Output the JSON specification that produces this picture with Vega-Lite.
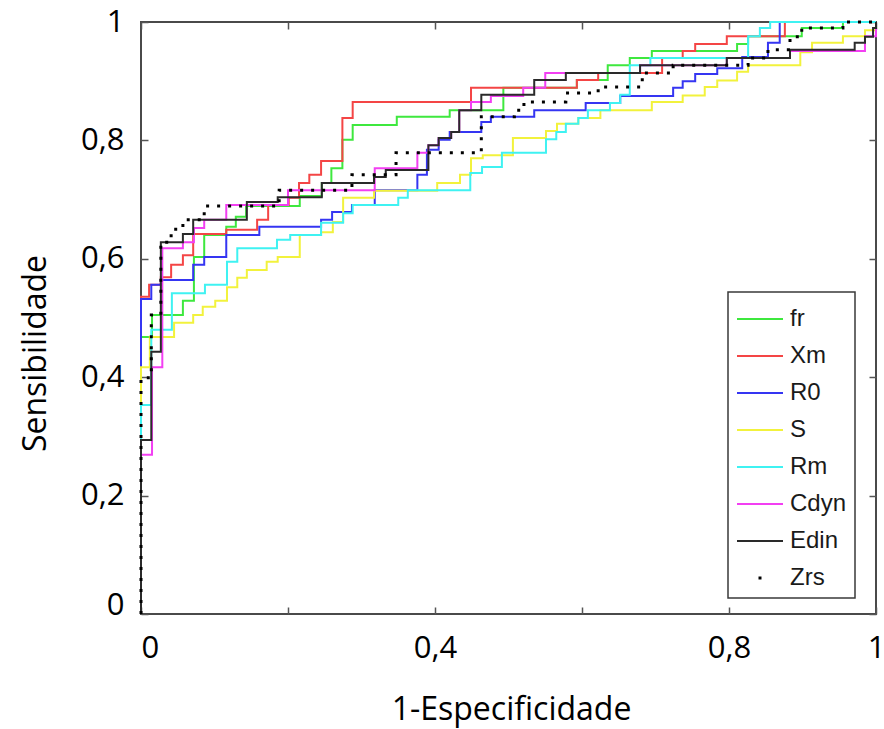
{
  "$schema": "https://vega.github.io/schema/vega-lite/v6.json",
  "width": 735,
  "height": 592,
  "autosize": {"type": "none"},
  "padding": {"left": 141, "top": 22, "right": 8, "bottom": 115},
  "background": "white",
  "config": {
    "view": {"stroke": "#4a4a4a", "strokeWidth": 2},
    "axis": {
      "domain": false, "grid": false, "ticks": true, "tickColor": "#555", "tickWidth": 1.5, "tickSize": -7,
      "labelFont": "Open Sans", "labelFontSize": 31, "labelColor": "#000",
      "titleFont": "Open Sans", "titleFontSize": 32, "titleFontWeight": "normal", "titleColor": "#000",
      "labelOverlap": false, "labelBound": false, "labelFlush": false
    }
  },
  "datasets": {
    "roc": [
      {"s":"fr","i":0,"x":0,"y":0},{"s":"fr","i":1,"x":0,"y":0.468},{"s":"fr","i":2,"x":0.015,"y":0.505},{"s":"fr","i":3,"x":0.057,"y":0.529},{"s":"fr","i":4,"x":0.072,"y":0.603},{"s":"fr","i":5,"x":0.086,"y":0.64},{"s":"fr","i":6,"x":0.116,"y":0.654},{"s":"fr","i":7,"x":0.129,"y":0.671},{"s":"fr","i":8,"x":0.143,"y":0.689},{"s":"fr","i":9,"x":0.216,"y":0.706},{"s":"fr","i":10,"x":0.246,"y":0.728},{"s":"fr","i":11,"x":0.259,"y":0.753},{"s":"fr","i":12,"x":0.274,"y":0.801},{"s":"fr","i":13,"x":0.288,"y":0.826},{"s":"fr","i":14,"x":0.348,"y":0.84},{"s":"fr","i":15,"x":0.42,"y":0.851},{"s":"fr","i":16,"x":0.493,"y":0.889},{"s":"fr","i":17,"x":0.593,"y":0.902},{"s":"fr","i":18,"x":0.635,"y":0.927},{"s":"fr","i":19,"x":0.665,"y":0.939},{"s":"fr","i":20,"x":0.695,"y":0.951},{"s":"fr","i":21,"x":0.811,"y":0.963},{"s":"fr","i":22,"x":0.826,"y":0.976},{"s":"fr","i":23,"x":0.899,"y":0.99},{"s":"fr","i":24,"x":0.955,"y":1},{"s":"fr","i":25,"x":1,"y":1},
      {"s":"Xm","i":0,"x":0,"y":0},{"s":"Xm","i":1,"x":0,"y":0.536},{"s":"Xm","i":2,"x":0.011,"y":0.556},{"s":"Xm","i":3,"x":0.027,"y":0.569},{"s":"Xm","i":4,"x":0.041,"y":0.59},{"s":"Xm","i":5,"x":0.057,"y":0.606},{"s":"Xm","i":6,"x":0.071,"y":0.642},{"s":"Xm","i":7,"x":0.116,"y":0.649},{"s":"Xm","i":8,"x":0.158,"y":0.666},{"s":"Xm","i":9,"x":0.173,"y":0.691},{"s":"Xm","i":10,"x":0.201,"y":0.703},{"s":"Xm","i":11,"x":0.215,"y":0.728},{"s":"Xm","i":12,"x":0.229,"y":0.742},{"s":"Xm","i":13,"x":0.245,"y":0.765},{"s":"Xm","i":14,"x":0.274,"y":0.838},{"s":"Xm","i":15,"x":0.288,"y":0.865},{"s":"Xm","i":16,"x":0.449,"y":0.889},{"s":"Xm","i":17,"x":0.593,"y":0.902},{"s":"Xm","i":18,"x":0.622,"y":0.914},{"s":"Xm","i":19,"x":0.709,"y":0.939},{"s":"Xm","i":20,"x":0.737,"y":0.951},{"s":"Xm","i":21,"x":0.754,"y":0.963},{"s":"Xm","i":22,"x":0.797,"y":0.976},{"s":"Xm","i":23,"x":0.876,"y":1},{"s":"Xm","i":24,"x":1,"y":1},
      {"s":"R0","i":0,"x":0,"y":0},{"s":"R0","i":1,"x":0,"y":0.532},{"s":"R0","i":2,"x":0.014,"y":0.556},{"s":"R0","i":3,"x":0.027,"y":0.564},{"s":"R0","i":4,"x":0.071,"y":0.59},{"s":"R0","i":5,"x":0.086,"y":0.603},{"s":"R0","i":6,"x":0.116,"y":0.64},{"s":"R0","i":7,"x":0.161,"y":0.654},{"s":"R0","i":8,"x":0.245,"y":0.666},{"s":"R0","i":9,"x":0.26,"y":0.679},{"s":"R0","i":10,"x":0.287,"y":0.691},{"s":"R0","i":11,"x":0.318,"y":0.716},{"s":"R0","i":12,"x":0.376,"y":0.742},{"s":"R0","i":13,"x":0.389,"y":0.784},{"s":"R0","i":14,"x":0.405,"y":0.801},{"s":"R0","i":15,"x":0.42,"y":0.814},{"s":"R0","i":16,"x":0.463,"y":0.831},{"s":"R0","i":17,"x":0.476,"y":0.84},{"s":"R0","i":18,"x":0.535,"y":0.851},{"s":"R0","i":19,"x":0.605,"y":0.863},{"s":"R0","i":20,"x":0.652,"y":0.875},{"s":"R0","i":21,"x":0.724,"y":0.889},{"s":"R0","i":22,"x":0.737,"y":0.9},{"s":"R0","i":23,"x":0.754,"y":0.912},{"s":"R0","i":24,"x":0.784,"y":0.922},{"s":"R0","i":25,"x":0.818,"y":0.941},{"s":"R0","i":26,"x":0.853,"y":0.965},{"s":"R0","i":27,"x":0.869,"y":1},{"s":"R0","i":28,"x":1,"y":1},
      {"s":"S","i":0,"x":0,"y":0},{"s":"S","i":1,"x":0,"y":0.417},{"s":"S","i":2,"x":0.012,"y":0.468},{"s":"S","i":3,"x":0.045,"y":0.492},{"s":"S","i":4,"x":0.071,"y":0.505},{"s":"S","i":5,"x":0.084,"y":0.519},{"s":"S","i":6,"x":0.101,"y":0.529},{"s":"S","i":7,"x":0.117,"y":0.552},{"s":"S","i":8,"x":0.131,"y":0.568},{"s":"S","i":9,"x":0.144,"y":0.581},{"s":"S","i":10,"x":0.171,"y":0.595},{"s":"S","i":11,"x":0.186,"y":0.603},{"s":"S","i":12,"x":0.216,"y":0.64},{"s":"S","i":13,"x":0.245,"y":0.645},{"s":"S","i":14,"x":0.261,"y":0.662},{"s":"S","i":15,"x":0.275,"y":0.703},{"s":"S","i":16,"x":0.317,"y":0.715},{"s":"S","i":17,"x":0.403,"y":0.728},{"s":"S","i":18,"x":0.434,"y":0.742},{"s":"S","i":19,"x":0.449,"y":0.77},{"s":"S","i":20,"x":0.465,"y":0.775},{"s":"S","i":21,"x":0.506,"y":0.804},{"s":"S","i":22,"x":0.551,"y":0.816},{"s":"S","i":23,"x":0.566,"y":0.828},{"s":"S","i":24,"x":0.595,"y":0.838},{"s":"S","i":25,"x":0.625,"y":0.851},{"s":"S","i":26,"x":0.695,"y":0.865},{"s":"S","i":27,"x":0.737,"y":0.876},{"s":"S","i":28,"x":0.767,"y":0.89},{"s":"S","i":29,"x":0.784,"y":0.901},{"s":"S","i":30,"x":0.811,"y":0.916},{"s":"S","i":31,"x":0.826,"y":0.927},{"s":"S","i":32,"x":0.897,"y":0.949},{"s":"S","i":33,"x":0.913,"y":0.965},{"s":"S","i":34,"x":0.955,"y":0.976},{"s":"S","i":35,"x":0.985,"y":0.986},{"s":"S","i":36,"x":1,"y":1},
      {"s":"Rm","i":0,"x":0,"y":0},{"s":"Rm","i":1,"x":0,"y":0.353},{"s":"Rm","i":2,"x":0.014,"y":0.48},{"s":"Rm","i":3,"x":0.042,"y":0.542},{"s":"Rm","i":4,"x":0.087,"y":0.556},{"s":"Rm","i":5,"x":0.117,"y":0.595},{"s":"Rm","i":6,"x":0.131,"y":0.618},{"s":"Rm","i":7,"x":0.185,"y":0.632},{"s":"Rm","i":8,"x":0.203,"y":0.64},{"s":"Rm","i":9,"x":0.245,"y":0.661},{"s":"Rm","i":10,"x":0.275,"y":0.677},{"s":"Rm","i":11,"x":0.288,"y":0.691},{"s":"Rm","i":12,"x":0.35,"y":0.703},{"s":"Rm","i":13,"x":0.363,"y":0.716},{"s":"Rm","i":14,"x":0.448,"y":0.745},{"s":"Rm","i":15,"x":0.464,"y":0.755},{"s":"Rm","i":16,"x":0.491,"y":0.779},{"s":"Rm","i":17,"x":0.551,"y":0.802},{"s":"Rm","i":18,"x":0.565,"y":0.814},{"s":"Rm","i":19,"x":0.578,"y":0.828},{"s":"Rm","i":20,"x":0.595,"y":0.838},{"s":"Rm","i":21,"x":0.608,"y":0.851},{"s":"Rm","i":22,"x":0.638,"y":0.863},{"s":"Rm","i":23,"x":0.652,"y":0.877},{"s":"Rm","i":24,"x":0.665,"y":0.927},{"s":"Rm","i":25,"x":0.693,"y":0.939},{"s":"Rm","i":26,"x":0.826,"y":0.976},{"s":"Rm","i":27,"x":0.842,"y":0.99},{"s":"Rm","i":28,"x":0.856,"y":1},{"s":"Rm","i":29,"x":1,"y":1},
      {"s":"Cdyn","i":0,"x":0,"y":0},{"s":"Cdyn","i":1,"x":0,"y":0.269},{"s":"Cdyn","i":2,"x":0.015,"y":0.417},{"s":"Cdyn","i":3,"x":0.029,"y":0.618},{"s":"Cdyn","i":4,"x":0.057,"y":0.628},{"s":"Cdyn","i":5,"x":0.072,"y":0.652},{"s":"Cdyn","i":6,"x":0.086,"y":0.666},{"s":"Cdyn","i":7,"x":0.116,"y":0.691},{"s":"Cdyn","i":8,"x":0.2,"y":0.716},{"s":"Cdyn","i":9,"x":0.318,"y":0.753},{"s":"Cdyn","i":10,"x":0.376,"y":0.779},{"s":"Cdyn","i":11,"x":0.391,"y":0.792},{"s":"Cdyn","i":12,"x":0.405,"y":0.804},{"s":"Cdyn","i":13,"x":0.422,"y":0.814},{"s":"Cdyn","i":14,"x":0.433,"y":0.851},{"s":"Cdyn","i":15,"x":0.449,"y":0.865},{"s":"Cdyn","i":16,"x":0.476,"y":0.875},{"s":"Cdyn","i":17,"x":0.52,"y":0.889},{"s":"Cdyn","i":18,"x":0.55,"y":0.914},{"s":"Cdyn","i":19,"x":0.679,"y":0.927},{"s":"Cdyn","i":20,"x":0.797,"y":0.939},{"s":"Cdyn","i":21,"x":0.883,"y":0.951},{"s":"Cdyn","i":22,"x":0.985,"y":0.976},{"s":"Cdyn","i":23,"x":1,"y":1},
      {"s":"Edin","i":0,"x":0,"y":0},{"s":"Edin","i":1,"x":0,"y":0.294},{"s":"Edin","i":2,"x":0.014,"y":0.443},{"s":"Edin","i":3,"x":0.027,"y":0.628},{"s":"Edin","i":4,"x":0.057,"y":0.642},{"s":"Edin","i":5,"x":0.071,"y":0.666},{"s":"Edin","i":6,"x":0.144,"y":0.696},{"s":"Edin","i":7,"x":0.186,"y":0.704},{"s":"Edin","i":8,"x":0.246,"y":0.728},{"s":"Edin","i":9,"x":0.317,"y":0.738},{"s":"Edin","i":10,"x":0.333,"y":0.75},{"s":"Edin","i":11,"x":0.391,"y":0.792},{"s":"Edin","i":12,"x":0.405,"y":0.804},{"s":"Edin","i":13,"x":0.422,"y":0.814},{"s":"Edin","i":14,"x":0.433,"y":0.851},{"s":"Edin","i":15,"x":0.463,"y":0.877},{"s":"Edin","i":16,"x":0.535,"y":0.902},{"s":"Edin","i":17,"x":0.578,"y":0.914},{"s":"Edin","i":18,"x":0.679,"y":0.927},{"s":"Edin","i":19,"x":0.797,"y":0.939},{"s":"Edin","i":20,"x":0.883,"y":0.953},{"s":"Edin","i":21,"x":0.971,"y":0.965},{"s":"Edin","i":22,"x":0.985,"y":0.975},{"s":"Edin","i":23,"x":0.996,"y":0.99},{"s":"Edin","i":24,"x":1,"y":1},
      {"s":"Zrs","i":0,"x":0,"y":0},{"s":"Zrs","i":1,"x":0,"y":0.399},{"s":"Zrs","i":2,"x":0.014,"y":0.505},{"s":"Zrs","i":3,"x":0.027,"y":0.628},{"s":"Zrs","i":4,"x":0.041,"y":0.65},{"s":"Zrs","i":5,"x":0.057,"y":0.666},{"s":"Zrs","i":6,"x":0.086,"y":0.689},{"s":"Zrs","i":7,"x":0.188,"y":0.716},{"s":"Zrs","i":8,"x":0.287,"y":0.742},{"s":"Zrs","i":9,"x":0.347,"y":0.779},{"s":"Zrs","i":10,"x":0.463,"y":0.84},{"s":"Zrs","i":11,"x":0.508,"y":0.851},{"s":"Zrs","i":12,"x":0.521,"y":0.865},{"s":"Zrs","i":13,"x":0.578,"y":0.88},{"s":"Zrs","i":14,"x":0.622,"y":0.89},{"s":"Zrs","i":15,"x":0.682,"y":0.914},{"s":"Zrs","i":16,"x":0.724,"y":0.927},{"s":"Zrs","i":17,"x":0.826,"y":0.939},{"s":"Zrs","i":18,"x":0.853,"y":0.953},{"s":"Zrs","i":19,"x":0.883,"y":0.975},{"s":"Zrs","i":20,"x":0.899,"y":0.99},{"s":"Zrs","i":21,"x":0.955,"y":1},{"s":"Zrs","i":22,"x":1,"y":1}
    ]
  },
  "data": {"name": "roc"},
  "layer": [
    {
      "transform": [{"filter": "datum.s != 'Zrs'"}],
      "mark": {"type": "line", "interpolate": "step-after", "strokeWidth": 2},
      "encoding": {
        "x": {
          "field": "x", "type": "quantitative", "scale": {"domain": [0, 1], "nice": false},
          "axis": {
            "orient": "bottom", "values": [0, 0.2, 0.4, 0.6, 0.8, 1],
            "labelExpr": "datum.value == 0.2 || datum.value == 0.6 ? '' : replace(format(datum.value, '~g'), '.', ',')",
            "labelPadding": 26,
            "labelAlign": {"condition": {"test": "datum.value == 0", "value": "left"}, "value": "center"},
            "title": "1-Especificidade", "titleX": 370, "titleY": 95, "titleBaseline": "middle", "titleAlign": "center"
          }
        },
        "y": {
          "field": "y", "type": "quantitative", "scale": {"domain": [0, 1], "nice": false},
          "axis": {
            "orient": "left", "values": [0, 0.2, 0.4, 0.6, 0.8, 1],
            "labelExpr": "replace(format(datum.value, '~g'), '.', ',')",
            "labelPadding": 24,
            "labelBaseline": {"condition": {"test": "datum.value == 0", "value": "alphabetic"}, "value": "middle"},
            "title": "Sensibilidade", "titleX": -106, "titleY": 331, "titleAngle": 270, "titleBaseline": "middle", "titleAlign": "center"
          }
        },
        "color": {
          "field": "s", "type": "nominal",
          "scale": {
            "domain": ["fr", "Xm", "R0", "S", "Rm", "Cdyn", "Edin", "Zrs"],
            "range": ["#3ee83e", "#f44545", "#3535f2", "#f2f23c", "#3ff2f2", "#f23ff2", "#2a2a2a", "#000000"]
          },
          "legend": {
            "orient": "none", "legendX": 587, "legendY": 270,
            "title": " ", "titleFontSize": 7, "titlePadding": 0,
            "padding": 8, "strokeColor": "#3a3a3a", "fillColor": "white",
            "symbolType": "M-2.3,0L2.3,0", "symbolSize": 400, "symbolStrokeWidth": 2, "symbolOffset": 12,
            "labelOffset": 18, "labelFont": "Liberation Sans", "labelFontSize": 24, "labelColor": "#1a1a1a",
            "rowPadding": 13, "labelLimit": 200,
            "encode": {
              "legend": {"update": {"strokeWidth": {"value": 1.5}}},
              "symbols": {
                "update": {
                  "strokeDash": {"signal": "datum.value == 'Zrs' ? [3, 60] : [1, 0]"},
                  "strokeDashOffset": {"signal": "datum.value == 'Zrs' ? -21.5 : 0"},
                  "strokeWidth": {"signal": "datum.value == 'Zrs' ? 3 : 2"}
                }
              }
            }
          }
        },
        "order": {"field": "i"}
      }
    },
    {
      "transform": [{"filter": "datum.s == 'Zrs'"}],
      "mark": {"type": "line", "interpolate": "step-after", "strokeWidth": 3, "strokeDash": [3, 8], "strokeCap": "butt"},
      "encoding": {
        "x": {
          "field": "x", "type": "quantitative", "scale": {"domain": [0, 1], "nice": false},
          "axis": {"orient": "top", "values": [0, 0.2, 0.4, 0.6, 0.8, 1], "labels": false, "title": null}
        },
        "y": {
          "field": "y", "type": "quantitative", "scale": {"domain": [0, 1], "nice": false},
          "axis": {"orient": "right", "values": [0, 0.2, 0.4, 0.6, 0.8, 1], "labels": false, "title": null}
        },
        "color": {"field": "s", "type": "nominal", "legend": null},
        "order": {"field": "i"}
      }
    }
  ],
  "resolve": {"axis": {"x": "independent", "y": "independent"}}
}
